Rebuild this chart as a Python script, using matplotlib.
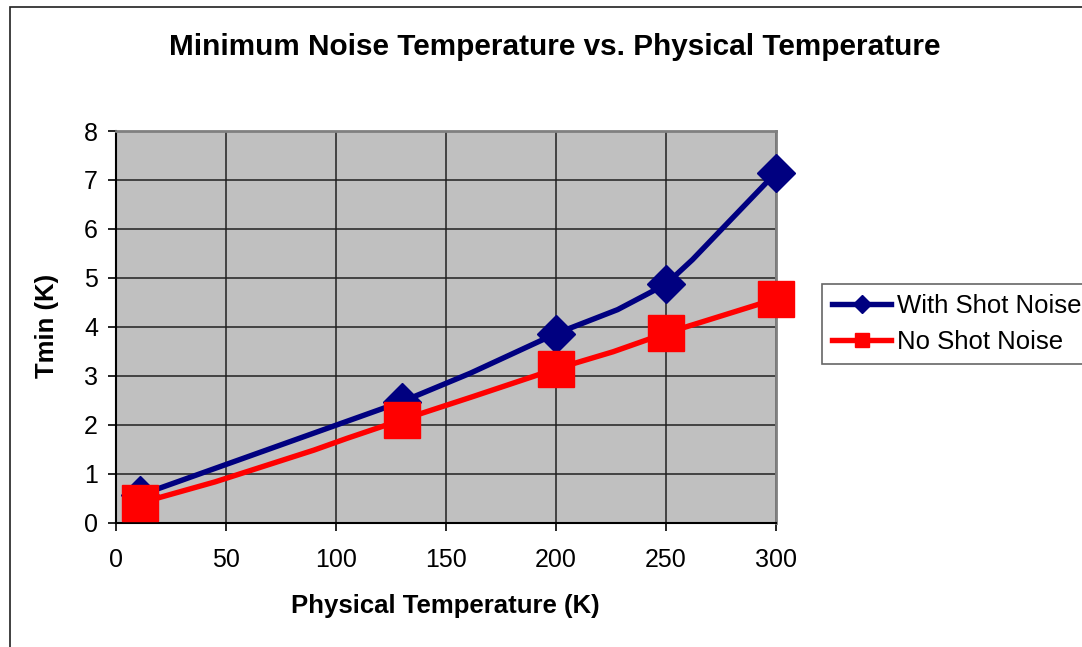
import matplotlib
matplotlib.use('Agg')
import matplotlib.pyplot as plt
from matplotlib.lines import Line2D
from matplotlib.patches import Rectangle

plt.rcParams['font.family'] = ['Liberation Sans', 'DejaVu Sans']

# with shot noise (line points, markers on some of them)
temp_shot = [11, 130, 161, 200, 228, 250, 262, 300]
tmin_shot = [0.56, 2.47, 3.05, 3.86, 4.35, 4.87, 5.37, 7.15]
marks_shot = [0, 1, 3, 5, 7]

# no shot noise
temp_noshot = [11, 45, 90, 105, 130, 162, 200, 226, 250, 300]
tmin_noshot = [0.40, 0.83, 1.48, 1.72, 2.10, 2.57, 3.14, 3.49, 3.87, 4.57]
marks_noshot = [0, 4, 6, 8, 9]

x_ticks = [0, 50, 100, 150, 200, 250, 300]
y_ticks = [0, 1, 2, 3, 4, 5, 6, 7, 8]

fig = plt.figure(figsize=(10.82, 6.47), dpi=100)
ax = fig.add_axes([0.1072, 0.1924, 0.61, 0.6051])
ax.set_facecolor('#C0C0C0')

# outer chart border
fig.patches.append(Rectangle((10 / 1082, -0.1), 1.2, 1.1 - 7 / 647, transform=fig.transFigure,
                             fill=False, edgecolor='#202020', linewidth=1.2))

ax.plot(temp_shot, tmin_shot, color='#000080', linewidth=3.9, marker='D', markersize=19,
        markevery=marks_shot, clip_on=False, zorder=3)
ax.plot(temp_noshot, tmin_noshot, color='#FF0000', linewidth=3.9, marker='s', markersize=26,
        markevery=marks_noshot, clip_on=False, zorder=4)

ax.set_xlim(0, 300)
ax.set_ylim(0, 8)
ax.set_xticks(x_ticks)
ax.set_yticks(y_ticks)
ax.grid(True, color='#202020', linewidth=1.1)
ax.set_axisbelow(True)
ax.tick_params(direction='out', length=6, width=1.2, labelsize=18, pad=7, colors='black')
ax.tick_params(axis='x', pad=12)
for s in ['top', 'right']:
    ax.spines[s].set_color('#808080')
    ax.spines[s].set_linewidth(2)
for s in ['left', 'bottom']:
    ax.spines[s].set_color('black')
    ax.spines[s].set_linewidth(1.5)

fig.text(0.513, 0.927, 'Minimum Noise Temperature vs. Physical Temperature',
         ha='center', va='center', fontsize=21.4, fontweight='bold')
fig.text(0.412, 0.063, 'Physical Temperature (K)', ha='center', va='center',
         fontsize=18.5, fontweight='bold')
fig.text(0.043, 0.497, 'Tmin (K)', ha='center', va='center', rotation=90,
         fontsize=18.5, fontweight='bold')

handles = [Line2D([], [], color='#000080', linewidth=3.9, marker='D', markersize=9),
           Line2D([], [], color='#FF0000', linewidth=3.9, marker='s', markersize=10)]
leg = fig.legend(handles, ['With Shot Noise', 'No Shot Noise'], loc='upper left',
                 bbox_to_anchor=(822 / 1082, 1 - 284 / 647), fontsize=18.5, frameon=True,
                 fancybox=False, handlelength=2.3, handletextpad=0.2, borderpad=0.4,
                 labelspacing=0.45, borderaxespad=0)
leg.get_frame().set_edgecolor('#404040')
leg.get_frame().set_linewidth(1.2)

fig.savefig('out.png', dpi=100)
